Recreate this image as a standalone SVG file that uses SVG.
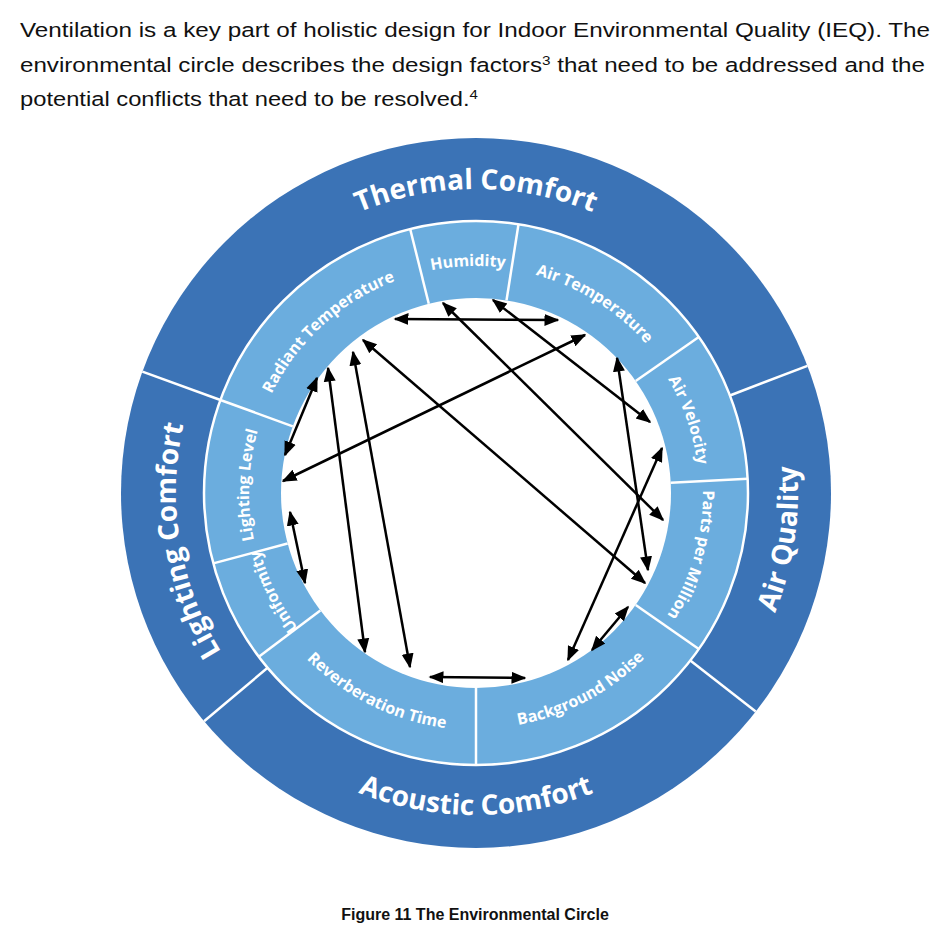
<svg xmlns="http://www.w3.org/2000/svg" width="950" height="942" viewBox="0 0 950 942">
<style>
.hdr{font-family:"Liberation Sans",Arial,sans-serif;font-size:20.5px;fill:#111}
.cap{font-family:"Liberation Sans",Arial,sans-serif;font-size:16px;font-weight:bold;fill:#111}
.big{font-family:"Open Sans","DejaVu Sans",sans-serif;font-size:28px;font-weight:bold;fill:#fff}
.sm{font-family:"Open Sans","DejaVu Sans",sans-serif;font-size:16px;font-weight:bold;fill:#fff}
.div{stroke:#fff;stroke-width:2.5}
.arr{stroke:#000;stroke-width:2.5;fill:none;marker-start:url(#ah);marker-end:url(#ah)}
</style>
<defs>
<marker id="ah" viewBox="0 0 10 10" refX="9" refY="5" markerWidth="6" markerHeight="6" orient="auto-start-reverse" markerUnits="strokeWidth"><path d="M0,1 L10,5 L0,9 z" fill="#000"/></marker>
<path id="pThermal" d="M172,493 A304,304 0 0 1 780,493"/>
<path id="pAir" d="M428.4,811.5 A322,322 0 0 0 523.6,174.5"/>
<path id="pLight" d="M525.6,792.9 A304,304 0 0 1 426.4,193.1"/>
<path id="pAcou" d="M154,493 A322,322 0 0 0 798,493"/>
<path id="pRad" d="M308.6,646.4 A227,227 0 0 1 643.4,339.6"/>
<path id="pHum" d="M249.1,500.9 A227,227 0 0 1 702.9,485.1"/>
<path id="pAT" d="M283.5,372.7 A227,227 0 0 1 668.5,613.3"/>
<path id="pAV" d="M402.1,278.4 A227,227 0 0 1 549.9,707.6"/>
<path id="pPPM" d="M538.6,274.8 A227,227 0 0 1 413.4,711.2"/>
<path id="pUni" d="M575.5,697 A227,227 0 0 1 376.5,289"/>
<path id="pLL" d="M468.1,719.9 A227,227 0 0 1 483.9,266.1"/>
<path id="pBN" d="M265,605.2 A239,239 0 0 0 687,380.8"/>
<path id="pRev" d="M262.1,386.4 A239,239 0 0 0 689.9,599.6"/>
</defs>
<rect width="950" height="942" fill="#fff"/>
<g id="intro">
<text class="hdr" x="20" y="37" textLength="910" lengthAdjust="spacingAndGlyphs">Ventilation is a key part of holistic design for Indoor Environmental Quality (IEQ). The</text>
<text class="hdr" x="20" y="72" textLength="905" lengthAdjust="spacingAndGlyphs">environmental circle describes the design factors<tspan font-size="13" dy="-7">3</tspan><tspan dy="7"> that need to be addressed and the</tspan></text>
<text class="hdr" x="20" y="106" textLength="458" lengthAdjust="spacingAndGlyphs">potential conflicts that need to be resolved.<tspan font-size="13" dy="-7">4</tspan></text>
</g>
<g id="rings">
<circle cx="476" cy="493" r="355" fill="#3b73b6"/>
<circle cx="476" cy="493" r="272" fill="#6badde" stroke="#fff" stroke-width="2.5"/>
<circle cx="476" cy="493" r="195" fill="#fff"/>
<line class="div" x1="220.4" y1="400" x2="142.4" y2="371.6"/>
<line class="div" x1="729.9" y1="395.5" x2="807.4" y2="365.8"/>
<line class="div" x1="690.3" y1="660.5" x2="755.7" y2="711.6"/>
<line class="div" x1="267.6" y1="667.8" x2="204.1" y2="721.2"/>
<line class="div" x1="428.8" y1="303.8" x2="410.2" y2="229.1"/>
<line class="div" x1="506.5" y1="300.4" x2="518.5" y2="224.3"/>
<line class="div" x1="635.7" y1="381.1" x2="698.8" y2="337"/>
<line class="div" x1="670.7" y1="482.8" x2="747.6" y2="478.8"/>
<line class="div" x1="635.7" y1="604.9" x2="698.8" y2="649"/>
<line class="div" x1="476" y1="688" x2="476" y2="765"/>
<line class="div" x1="320.3" y1="610.4" x2="258.8" y2="656.7"/>
<line class="div" x1="287.6" y1="543.5" x2="213.3" y2="563.4"/>
<line class="div" x1="292.8" y1="426.3" x2="220.4" y2="400"/>
</g>
<g id="thermal-comfort"><text class="big"><textPath href="#pThermal" startOffset="50%" text-anchor="middle">Thermal Comfort</textPath></text></g>
<g id="air-quality"><text class="big" font-size="30"><textPath href="#pAir" startOffset="50%" text-anchor="middle">Air Quality</textPath></text></g>
<g id="lighting-comfort"><text class="big"><textPath href="#pLight" startOffset="50%" text-anchor="middle">Lighting Comfort</textPath></text></g>
<g id="acoustic-comfort"><text class="big"><textPath href="#pAcou" startOffset="50%" text-anchor="middle">Acoustic Comfort</textPath></text></g>
<g id="radiant-temperature"><text class="sm"><textPath href="#pRad" startOffset="50%" text-anchor="middle">Radiant Temperature</textPath></text></g>
<g id="humidity"><text class="sm"><textPath href="#pHum" startOffset="50%" text-anchor="middle">Humidity</textPath></text></g>
<g id="air-temperature"><text class="sm"><textPath href="#pAT" startOffset="50%" text-anchor="middle">Air Temperature</textPath></text></g>
<g id="air-velocity"><text class="sm"><textPath href="#pAV" startOffset="50%" text-anchor="middle">Air Velocity</textPath></text></g>
<g id="parts-per-million"><text class="sm"><textPath href="#pPPM" startOffset="50%" text-anchor="middle">Parts per Million</textPath></text></g>
<g id="background-noise"><text class="sm"><textPath href="#pBN" startOffset="50%" text-anchor="middle">Background Noise</textPath></text></g>
<g id="reverberation-time"><text class="sm"><textPath href="#pRev" startOffset="50%" text-anchor="middle">Reverberation Time</textPath></text></g>
<g id="uniformity"><text class="sm"><textPath href="#pUni" startOffset="50%" text-anchor="middle">Uniformity</textPath></text></g>
<g id="lighting-level"><text class="sm"><textPath href="#pLL" startOffset="50%" text-anchor="middle">Lighting Level</textPath></text></g>
<g id="connectors">
<line class="arr" x1="395" y1="319" x2="558" y2="320"/>
<line class="arr" x1="443" y1="303" x2="663" y2="520"/>
<line class="arr" x1="493" y1="300" x2="650" y2="422"/>
<line class="arr" x1="363" y1="340" x2="645" y2="583"/>
<line class="arr" x1="283" y1="481" x2="585" y2="335"/>
<line class="arr" x1="317" y1="378" x2="285" y2="455"/>
<line class="arr" x1="328" y1="368" x2="365" y2="652"/>
<line class="arr" x1="353" y1="352" x2="410" y2="667"/>
<line class="arr" x1="290" y1="512" x2="305" y2="583"/>
<line class="arr" x1="430" y1="677" x2="525" y2="678"/>
<line class="arr" x1="617" y1="358" x2="648" y2="570"/>
<line class="arr" x1="662" y1="448" x2="568" y2="660"/>
<line class="arr" x1="628" y1="607" x2="592" y2="650"/>
</g>
<g id="caption"><text class="cap" x="475" y="920" text-anchor="middle">Figure 11 The Environmental Circle</text></g>
</svg>
